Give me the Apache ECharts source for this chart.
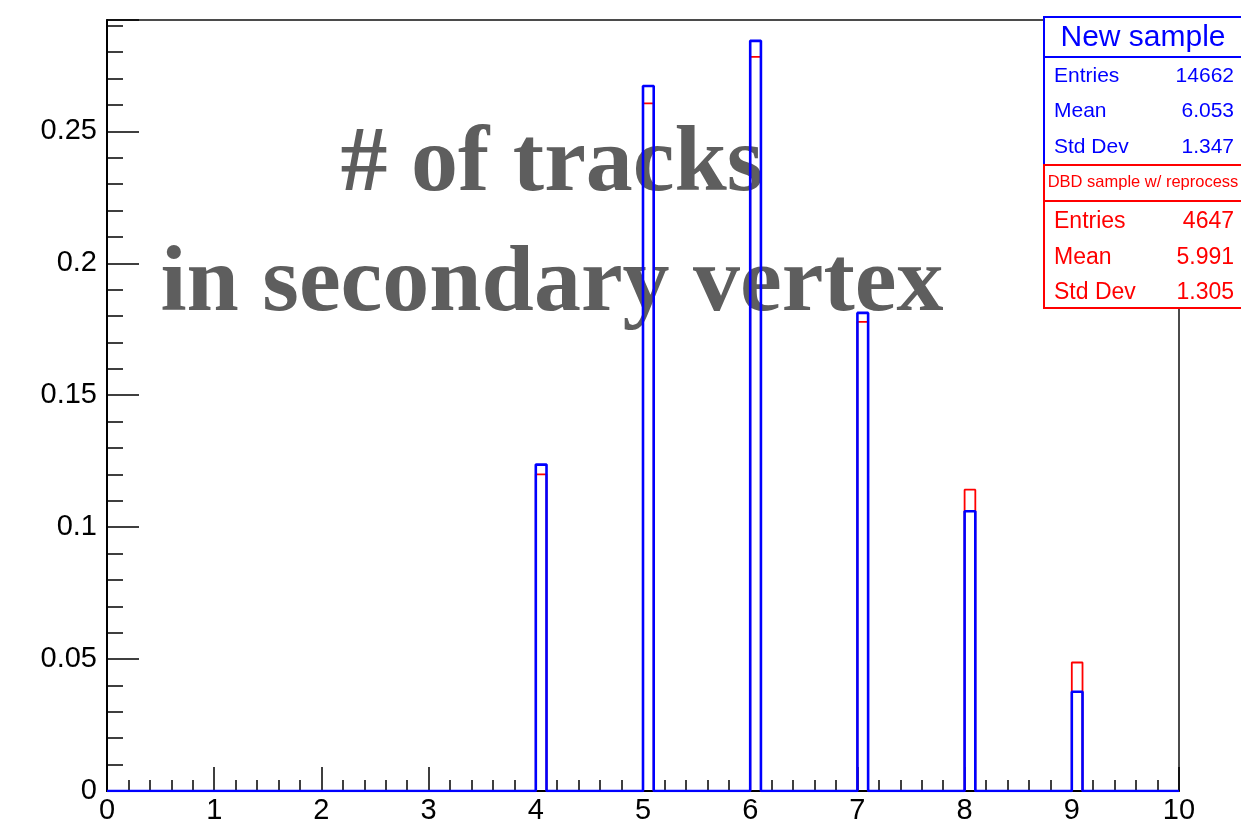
<!DOCTYPE html>
<html>
<head>
<meta charset="utf-8">
<script src="https://cdn.jsdelivr.net/npm/echarts@6/dist/echarts.min.js"></script>
<style>
html,body{margin:0;padding:0;background:#fff;}
#chart{width:1241px;height:825px;}
</style>
</head>
<body>
<div id="chart"></div>
<script>
// Bin lower edges (bin width 0.1)
const binStarts = [4, 5, 6, 7, 8, 9];
const binWidth = 0.1;
// Normalized bin contents
const newSample = [0.1237, 0.2672, 0.2843, 0.1812, 0.1060, 0.0376];
const dbdSample = [0.1200, 0.2606, 0.2782, 0.1778, 0.1142, 0.0487];
const yTicks = [0, 0.05, 0.1, 0.15, 0.2, 0.25];
const xTicks = [0, 1, 2, 3, 4, 5, 6, 7, 8, 9, 10];
const newStats = [["Entries", "14662"], ["Mean", "6.053"], ["Std Dev", "1.347"]];
const dbdStats = [["Entries", "4647"], ["Mean", "5.991"], ["Std Dev", "1.305"]];
const titleLines = ["# of tracks", "in secondary vertex"];

function stepPoints(vals) {
  const pts = [[xTicks[0], 0]];
  binStarts.forEach((lo, i) => {
    const hi = +(lo + binWidth).toFixed(3);
    pts.push([lo, 0], [lo, vals[i]], [hi, vals[i]], [hi, 0]);
  });
  pts.push([xTicks[xTicks.length - 1], 0]);
  return pts;
}

const chart = echarts.init(document.getElementById('chart'));
const sans = 'Liberation Sans, Arial, Helvetica, sans-serif';

const graphics = [];
// Overlay title text (behind histograms)
graphics.push({ type: 'text', x: 552, y: 166, z: 0, style: { text: titleLines[0], font: 'bold 94px "Liberation Serif", serif', fill: '#5e5e5e', textAlign: 'center', textVerticalAlign: 'middle' } });
graphics.push({ type: 'text', x: 552, y: 286, z: 0, style: { text: titleLines[1], font: 'bold 94px "Liberation Serif", serif', fill: '#5e5e5e', textAlign: 'center', textVerticalAlign: 'middle' } });

// Blue stat box
graphics.push({ type: 'rect', z: 10, shape: { x: 1044, y: 17, width: 210, height: 148 }, style: { fill: '#fff', stroke: '#0000ff', lineWidth: 2 } });
graphics.push({ type: 'line', z: 11, shape: { x1: 1044, y1: 57, x2: 1250, y2: 57 }, style: { stroke: '#0000ff', lineWidth: 2 } });
graphics.push({ type: 'text', z: 11, x: 1143, y: 38, style: { text: 'New sample', font: '30px ' + sans, fill: '#0000ff', textAlign: 'center', textVerticalAlign: 'middle' } });
const blueYs = [76, 111.5, 147.5];
newStats.forEach((r, i) => {
  graphics.push({ type: 'text', z: 11, x: 1054, y: blueYs[i], style: { text: r[0], font: '21px ' + sans, fill: '#0000ff', textAlign: 'left', textVerticalAlign: 'middle' } });
  graphics.push({ type: 'text', z: 11, x: 1234, y: blueYs[i], style: { text: r[1], font: '21px ' + sans, fill: '#0000ff', textAlign: 'right', textVerticalAlign: 'middle' } });
});
// Red stat box
graphics.push({ type: 'rect', z: 10, shape: { x: 1044, y: 165, width: 210, height: 143 }, style: { fill: '#fff', stroke: '#ff0000', lineWidth: 2 } });
graphics.push({ type: 'line', z: 11, shape: { x1: 1044, y1: 201, x2: 1250, y2: 201 }, style: { stroke: '#ff0000', lineWidth: 2 } });
graphics.push({ type: 'text', z: 11, x: 1143, y: 182, style: { text: 'DBD sample w/ reprocess', font: '16.5px ' + sans, fill: '#ff0000', textAlign: 'center', textVerticalAlign: 'middle' } });
const redYs = [221.5, 257.5, 293];
dbdStats.forEach((r, i) => {
  graphics.push({ type: 'text', z: 11, x: 1054, y: redYs[i], style: { text: r[0], font: '23px ' + sans, fill: '#ff0000', textAlign: 'left', textVerticalAlign: 'middle' } });
  graphics.push({ type: 'text', z: 11, x: 1234, y: redYs[i], style: { text: r[1], font: '23px ' + sans, fill: '#ff0000', textAlign: 'right', textVerticalAlign: 'middle' } });
});

chart.setOption({
  animation: false,
  backgroundColor: '#fff',
  grid: { left: 107, right: 62, top: 20, bottom: 34, show: true, borderColor: '#111', borderWidth: 1.5, backgroundColor: 'transparent' },
  xAxis: {
    type: 'value', min: xTicks[0], max: xTicks[xTicks.length - 1], interval: 1,
    axisLine: { show: true, onZero: false, lineStyle: { color: '#000', width: 2 } },
    axisTick: { show: true, inside: true, length: 24, lineStyle: { color: '#000', width: 1.5 } },
    minorTick: { show: true, splitNumber: 5, length: 11, lineStyle: { color: '#000', width: 1.5 } },
    splitLine: { show: false },
    axisLabel: { color: '#000', fontSize: 29, fontFamily: sans, margin: 5 }
  },
  yAxis: {
    type: 'value', min: 0, max: 0.2922, interval: 0.05,
    axisLine: { show: true, onZero: false, lineStyle: { color: '#000', width: 2 } },
    axisTick: { show: true, inside: true, length: 32, lineStyle: { color: '#000', width: 1.5 } },
    minorTick: { show: true, splitNumber: 5, length: 16, lineStyle: { color: '#000', width: 1.5 } },
    splitLine: { show: false },
    axisLabel: { color: '#000', fontSize: 29, fontFamily: sans, margin: 10, showMaxLabel: false,
      formatter: v => { const t = yTicks.find(k => Math.abs(k - v) < 1e-9); return t === undefined ? '' : String(t); } }
  },
  graphic: graphics,
  series: [
    { type: 'line', z: 3, data: stepPoints(dbdSample), symbol: 'none', lineStyle: { color: '#ff0000', width: 1.8 }, silent: true },
    { type: 'line', z: 4, data: stepPoints(newSample), symbol: 'none', lineStyle: { color: '#0000ff', width: 2.6 }, silent: true }
  ]
});
</script>
</body>
</html>
